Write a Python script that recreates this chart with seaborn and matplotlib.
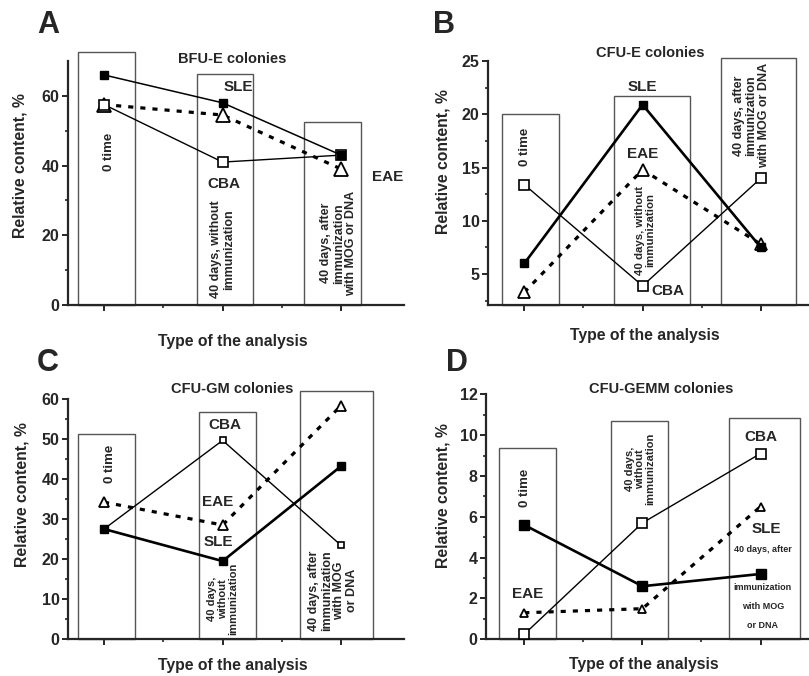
import numpy as np
import pandas as pd
import matplotlib.pyplot as plt
import seaborn as sns
from matplotlib.patches import Rectangle

# analysis stages: 0 time / 40 days without immunization / 40 days after immunization
stages = [1, 2, 3]

# A - BFU-E colonies
a_sle = [66.0, 58.0, 43.0]
a_cba = [57.5, 41.0, 43.0]
a_eae = [57.5, 54.5, 39.0]

# B - CFU-E colonies
b_sle = [6.0, 20.9, 7.5]
b_cba = [13.4, 3.9, 14.0]
b_eae = [3.3, 14.8, 7.8]

# C - CFU-GM colonies
c_sle = [27.5, 19.5, 43.2]
c_cba = [27.5, 49.6, 23.4]
c_eae = [34.2, 28.5, 58.3]

# D - CFU-GEMM colonies
d_sle = [5.6, 2.6, 3.2]
d_cba = [0.25, 5.7, 9.1]
d_eae = [1.3, 1.5, 6.5]

sns.set_style("ticks")
plt.rcParams['font.family'] = ['Liberation Sans', 'DejaVu Sans']
plt.rcParams['font.weight'] = 'bold'
plt.rcParams['axes.labelweight'] = 'bold'

fig = plt.figure(figsize=(8.09, 6.76), dpi=100)

W, H = 809, 676


def make_axes(left, right, bottom, top):
    return fig.add_axes([left / W, 1 - bottom / H, (right - left) / W, (bottom - top) / H])


def draw_panel(ax, sle, cba, eae, ms, lw_sle):
    # ms: (filled square, open square, triangle)
    df = pd.DataFrame({'stage': stages, 'SLE': sle, 'CBA': cba, 'EAE': eae})
    sns.lineplot(data=df, x='stage', y='EAE', ax=ax, color='black', lw=2.3,
                 linestyle=(0, (1.6, 2.2)), marker='^', markersize=ms[2],
                 markerfacecolor='white', markeredgecolor='black',
                 markeredgewidth=1.3, zorder=3)
    sns.lineplot(data=df, x='stage', y='CBA', ax=ax, color='black', lw=1.0,
                 marker='s', markersize=ms[1], markerfacecolor='white',
                 markeredgecolor='black', markeredgewidth=1.2, zorder=4)
    sns.lineplot(data=df, x='stage', y='SLE', ax=ax, color='black', lw=lw_sle,
                 marker='s', markersize=ms[0], markerfacecolor='black',
                 markeredgecolor='black', markeredgewidth=1.0, zorder=5)


def style_axes(ax, xlim, ylim, major, minor, label_x, label_y, xlab_y):
    ax.set_xlim(*xlim)
    ax.set_ylim(*ylim)
    ax.set_xticks(stages)
    ax.set_xticks([1.5, 2.5], minor=True)
    ax.set_xticklabels([])
    ax.set_yticks(major)
    ax.set_yticks(minor, minor=True)
    ax.tick_params(axis='both', which='major', length=4, width=1.4, labelsize=11.5, pad=2)
    ax.tick_params(axis='both', which='minor', length=2.5, width=1.2)
    for lab in ax.get_yticklabels():
        lab.set_fontweight('bold')
    sns.despine(ax=ax)
    for s in ['left', 'bottom']:
        ax.spines[s].set_linewidth(1.6)
    ax.set_ylabel('Relative content, %', fontsize=11.3, fontweight='bold')
    ax.yaxis.set_label_coords(label_x, label_y)
    ax.yaxis.label.set_va('center')
    ax.set_xlabel('Type of the analysis', fontsize=11.3, fontweight='bold')
    ax.xaxis.set_label_coords(0.49, xlab_y)
    ax.xaxis.label.set_va('center')
    ax.set_facecolor('none')


def add_boxes(ax, boxes, bottom):
    for x0, x1, top in boxes:
        ax.add_patch(Rectangle((x0, bottom), x1 - x0, top - bottom, facecolor='white',
                               edgecolor='#555555', lw=1.0, clip_on=False, zorder=1))


def add_texts(ax, items, rot=90):
    for txt, x, y, fs in items:
        ax.text(x, y, txt, rotation=rot, ha='center', va='center', fontsize=fs,
                fontweight='bold', multialignment='center', zorder=2, linespacing=1.05)


def add_labels(ax, items):
    for txt, x, y in items:
        ax.text(x, y, txt, ha='center', va='center', fontsize=11, fontweight='bold', zorder=6)


def add_title(ax, txt, x, y):
    ax.text(x, y, txt, transform=ax.transAxes, ha='center', va='center',
            fontsize=10.5, fontweight='bold')


# ---------- A ----------
axA = make_axes(68, 404, 305, 61)
add_boxes(axA, [(0.78, 1.26, 72.7), (1.78, 2.26, 66.3), (2.685, 3.17, 52.6)], 0)
add_texts(axA, [('0 time', 1.04, 44, 9.5),
                ('40 days, without\nimmunization', 2.0, 16, 9),
                ('40 days, after\nimmunization\nwith MOG or DNA', 2.98, 17.7, 9)])
draw_panel(axA, a_sle, a_cba, a_eae, ms=(5.5, 7, 9.5), lw_sle=1.1)
style_axes(axA, (0.696, 3.53), (0, 70), [0, 20, 40, 60], [10, 30, 50], -0.143, 0.57, -0.148)
add_labels(axA, [('SLE', 2.13, 62.6), ('CBA', 2.01, 34.8), ('EAE', 3.39, 36.6)])
add_title(axA, 'BFU-E colonies', 0.49, 1.008)

# ---------- B ----------
axB = make_axes(488, 809, 305, 61)
add_boxes(axB, [(0.814, 1.296, 20.0), (1.76, 2.40, 21.7), (2.66, 3.30, 25.3)], 2.1)
add_texts(axB, [('0 time', 1.01, 16.9, 9.5),
                ('40 days, without\nimmunization', 2.02, 9.1, 8.2),
                ('40 days, after\nimmunization\nwith MOG or DNA', 2.92, 19.9, 9)])
draw_panel(axB, b_sle, b_cba, b_eae, ms=(5.5, 7, 8), lw_sle=1.9)
style_axes(axB, (0.693, 3.407), (2.1, 25), [5, 10, 15, 20, 25],
           [2.5, 7.5, 12.5, 17.5, 22.5], -0.139, 0.587, -0.126)
add_labels(axB, [('SLE', 2.0, 22.6), ('EAE', 2.0, 16.3), ('CBA', 2.21, 3.4)])
add_title(axB, 'CFU-E colonies', 0.505, 1.033)

# ---------- C ----------
axC = make_axes(68, 404, 639.3, 398.7)
add_boxes(axC, [(0.78, 1.26, 51.3), (1.80, 2.28, 56.8), (2.65, 3.27, 61.9)], 0)
add_texts(axC, [('0 time', 1.05, 43.7, 9.5),
                ('40 days,\nwithout\nimmunization', 2.0, 10.1, 8),
                ('40 days, after\nimmunization\nwith MOG\nor DNA', 2.93, 12.2, 9)])
draw_panel(axC, c_sle, c_cba, c_eae, ms=(5.5, 5, 7.5), lw_sle=1.9)
style_axes(axC, (0.696, 3.53), (0, 60), [0, 10, 20, 30, 40, 50, 60],
           [5, 15, 25, 35, 45, 55], -0.136, 0.603, -0.11)
add_labels(axC, [('CBA', 2.02, 53.5), ('EAE', 1.96, 34.3), ('SLE', 1.96, 24.3)])
add_title(axC, 'CFU-GM colonies', 0.49, 1.039)

# ---------- D ----------
axD = make_axes(486, 809, 639.3, 394.3)
add_boxes(axD, [(0.784, 1.265, 9.39), (1.73, 2.22, 10.7), (2.73, 3.33, 10.85)], 0)
add_texts(axD, [('0 time', 1.01, 7.43, 9.5),
                ('40 days,\nwithout\nimmunization', 1.98, 8.35, 8)])
add_texts(axD, [('40 days, after', 3.02, 4.41, 6.5), ('immunization', 3.02, 2.53, 6.5),
                ('with MOG', 3.02, 1.6, 6.5), ('or DNA', 3.02, 0.69, 6.5)], rot=0)
draw_panel(axD, d_sle, d_cba, d_eae, ms=(7.5, 6.5, 6), lw_sle=1.9)
style_axes(axD, (0.676, 3.41), (0, 12), [0, 2, 4, 6, 8, 10, 12],
           [1, 3, 5, 7, 9, 11], -0.132, 0.585, -0.102)
add_labels(axD, [('CBA', 3.0, 9.93), ('SLE', 3.05, 5.42), ('EAE', 1.03, 2.2)])
add_title(axD, 'CFU-GEMM colonies', 0.541, 1.02)

# panel letters
for letter, px, py in [('A', 48, 25), ('B', 444, 25), ('C', 48, 362.7), ('D', 456.7, 362.7)]:
    fig.text(px / W, 1 - py / H, letter, ha='center', va='center', fontsize=22, fontweight='bold')

fig.savefig('out.png', dpi=100)
